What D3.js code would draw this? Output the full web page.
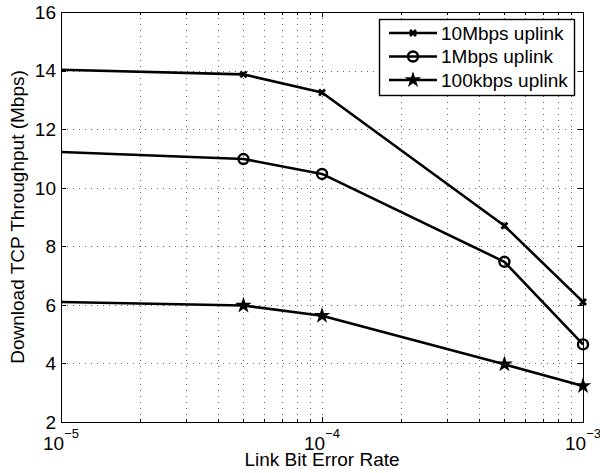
<!DOCTYPE html>
<html>
<head>
<meta charset="utf-8">
<script src="https://cdn.jsdelivr.net/npm/d3@7"></script>
<style>
  body { margin: 0; background: #fff; }
  text { font-family: "Liberation Sans", Arial, sans-serif; fill: #000; }
</style>
</head>
<body>
<script>
// link bit error rates (x) and throughput per uplink (Mbps)
const ber = [1e-5, 5e-5, 1e-4, 5e-4, 1e-3];
const up10M = [14.03, 13.87, 13.25, 8.7, 6.1];
const up1M = [11.22, 10.98, 10.47, 7.47, 4.65];
const up100k = [6.1, 5.98, 5.63, 3.97, 3.23];
const seriesNames = ['10Mbps uplink', '1Mbps uplink', '100kbps uplink'];
const yTicks = [2, 4, 6, 8, 10, 12, 14, 16];
const xMajor = [1e-5, 1e-4, 1e-3];
const xExp = ['\u22125', '\u22124', '\u22123'];

const W = 600, H = 473;
const margin = {top: 12, right: 17, bottom: 51, left: 61},
  width = W - margin.left - margin.right,
  height = H - margin.top - margin.bottom;

const x = d3.scaleLog().domain([1e-5, 1e-3]).range([0, width]);
const y = d3.scaleLinear().domain([2, 16]).range([height, 0]);

const svg = d3.select('body').append('svg')
    .attr('width', W)
    .attr('height', H)
  .append('g')
    .attr('transform', `translate(${margin.left},${margin.top})`);

// minor log positions
let xMinor = [];
for (let d = 1e-5; d < 1e-3; d *= 10) {
  for (let k = 2; k <= 9; k++) xMinor.push(d * k);
}

// grid
const grid = svg.append('g').attr('class', 'grid')
    .attr('stroke', '#666').attr('stroke-width', 1)
    .attr('stroke-dasharray', '1,5');
grid.selectAll('.gy').data(yTicks.slice(1, -1)).join('line')
    .attr('x1', 0).attr('x2', width)
    .attr('y1', d => Math.round(y(d)) + 0.5).attr('y2', d => Math.round(y(d)) + 0.5);
grid.selectAll('.gx').data(xMinor.concat([1e-4])).join('line')
    .attr('y1', 0).attr('y2', height)
    .attr('x1', d => Math.round(x(d)) + 0.5).attr('x2', d => Math.round(x(d)) + 0.5);

// axes box
svg.append('rect')
    .attr('x', 0.5).attr('y', 0.5)
    .attr('width', width).attr('height', height)
    .attr('fill', 'none').attr('stroke', '#000').attr('stroke-width', 1);

// ticks (inside, all four sides)
const ticks = svg.append('g').attr('stroke', '#000').attr('stroke-width', 1);
yTicks.forEach(v => {
  const yy = Math.round(y(v)) + 0.5;
  ticks.append('line').attr('x1', 0).attr('x2', 5).attr('y1', yy).attr('y2', yy);
  ticks.append('line').attr('x1', width - 5).attr('x2', width).attr('y1', yy).attr('y2', yy);
});
xMajor.concat(xMinor).forEach(v => {
  const xx = Math.round(x(v)) + 0.5;
  const len = xMajor.includes(v) ? 5 : 3;
  ticks.append('line').attr('x1', xx).attr('x2', xx).attr('y1', height).attr('y2', height - len);
  ticks.append('line').attr('x1', xx).attr('x2', xx).attr('y1', 0).attr('y2', len);
});

// tick labels
svg.append('g').selectAll('text').data(yTicks).join('text')
    .attr('x', -5)
    .attr('y', d => y(d))
    .attr('dy', '0.36em')
    .attr('text-anchor', 'end')
    .style('font-size', '19px')
    .text(d => d);

const xl = svg.append('g').selectAll('text').data(xMajor).join('text')
    .attr('x', d => x(d) - 18)
    .attr('y', height + 28)
    .style('font-size', '19px');
xl.append('tspan').text('10');
xl.append('tspan')
    .attr('dy', -12)
    .style('font-size', '13px')
    .text((d, i) => xExp[i]);

// axis labels
svg.append('text')
    .attr('x', width / 2)
    .attr('y', height + 44)
    .attr('text-anchor', 'middle')
    .style('font-size', '19px')
    .text('Link Bit Error Rate');

svg.append('text')
    .attr('transform', `translate(${24 - margin.left},${height / 2}) rotate(-90)`)
    .attr('text-anchor', 'middle')
    .style('font-size', '19px')
    .text('Download TCP Throughput (Mbps)');

// series
const series = [up10M, up1M, up100k].map((vals, i) => ({
  name: seriesNames[i],
  values: vals.map((v, j) => ({ber: ber[j], v: v}))
}));

const line = d3.line().x(d => x(d.ber)).y(d => y(d.v));

function marker(g, i) {
  if (i === 0) {
    g.append('path')
        .attr('d', 'M-3,-3L3,3M-3,3L3,-3')
        .attr('stroke', '#000').attr('stroke-width', 2.8).attr('fill', 'none');
  } else if (i === 1) {
    g.append('circle').attr('r', 5)
        .attr('fill', 'none').attr('stroke', '#000').attr('stroke-width', 2.4);
  } else {
    g.append('path')
        .attr('d', d3.symbol().type(d3.symbolStar).size(85)())
        .attr('fill', '#000');
  }
}

series.forEach((s, i) => {
  svg.append('path')
      .datum(s.values)
      .attr('d', line)
      .attr('fill', 'none')
      .attr('stroke', '#000')
      .attr('stroke-width', 2.6)
      .attr('stroke-linejoin', 'round');
  // first point lies on the left axis: no marker there in the original
  svg.selectAll(null).data(s.values.slice(1)).join('g')
      .attr('transform', d => `translate(${x(d.ber)},${y(d.v)})`)
      .each(function() { marker(d3.select(this), i); });
});

// legend
const lg = svg.append('g')
    .attr('transform', `translate(${379 - margin.left},${19 - margin.top})`);
lg.append('rect')
    .attr('x', 0.5).attr('y', 0.5)
    .attr('width', 195).attr('height', 76)
    .attr('fill', '#fff').attr('stroke', '#000').attr('stroke-width', 1.4);
seriesNames.forEach((name, i) => {
  const row = lg.append('g').attr('transform', `translate(0,${14 + i * 23.5})`);
  row.append('line')
      .attr('x1', 10).attr('x2', 58)
      .attr('stroke', '#000').attr('stroke-width', 2.6);
  marker(row.append('g').attr('transform', 'translate(34,0)'), i);
  row.append('text')
      .attr('x', 62)
      .attr('dy', '0.36em')
      .style('font-size', '19px')
      .text(name);
});
</script>
</body>
</html>
